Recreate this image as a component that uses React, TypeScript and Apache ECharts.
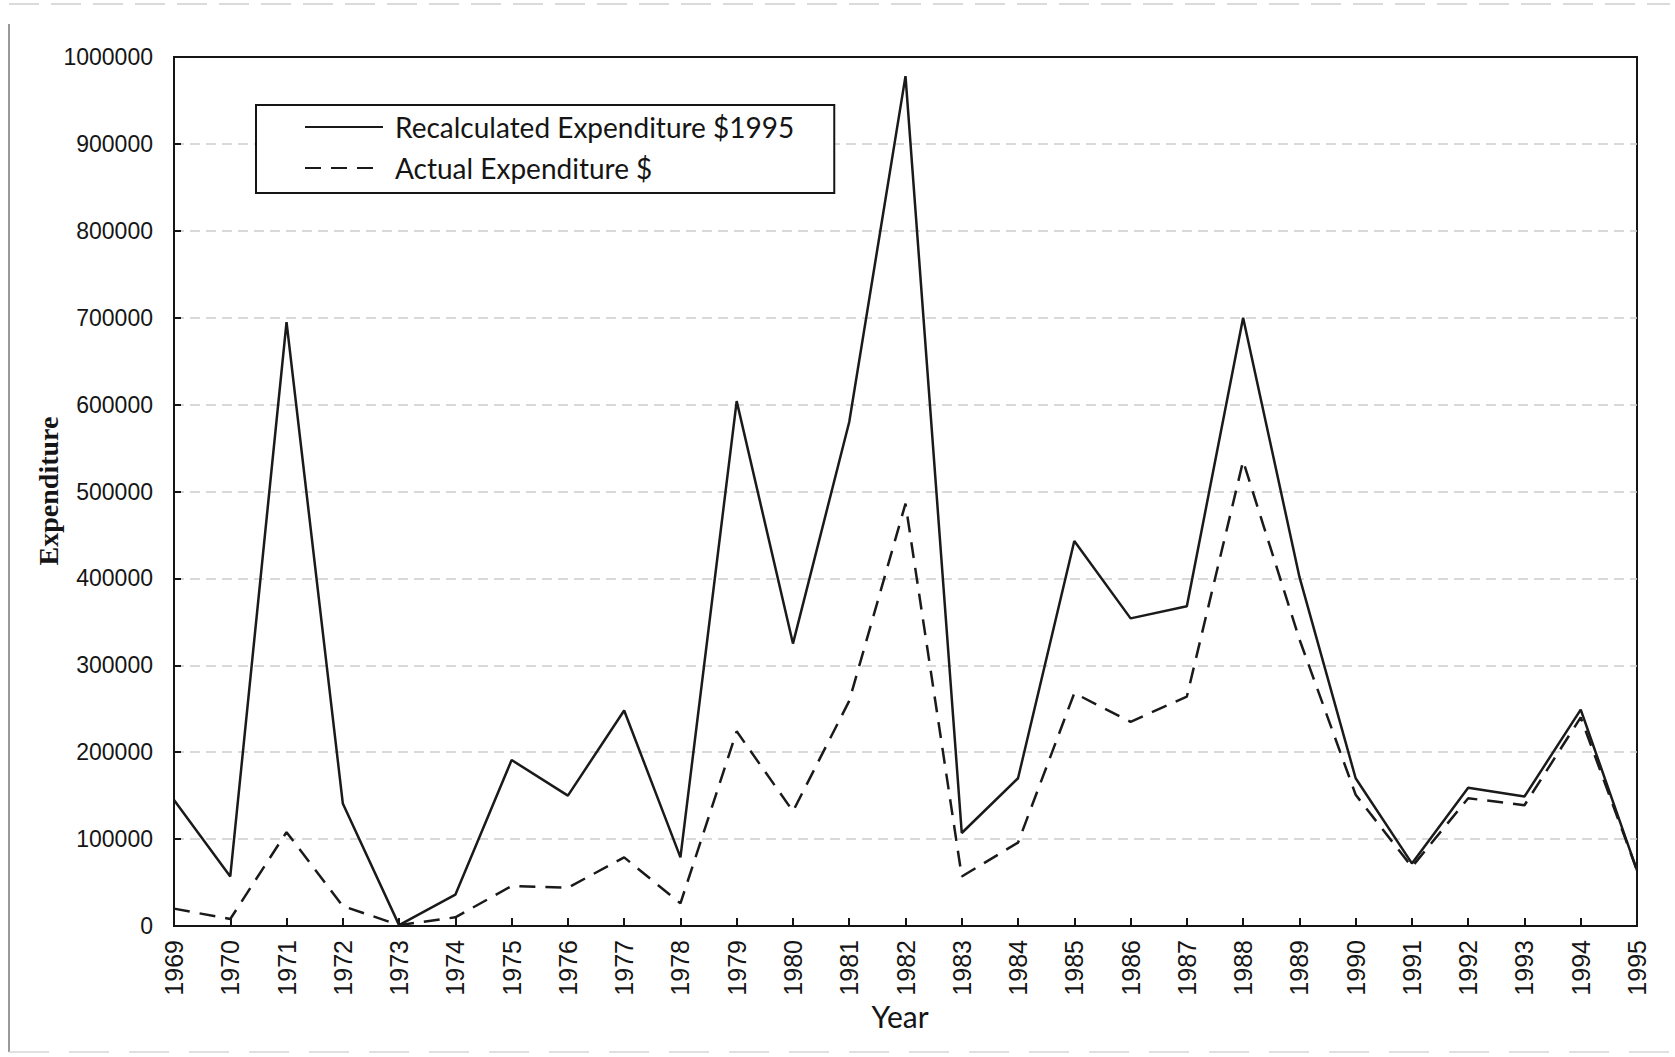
import React, { useEffect, useRef } from "react";
import * as echarts from "echarts";

const years = [
  "1969", "1970", "1971", "1972", "1973", "1974", "1975", "1976", "1977",
  "1978", "1979", "1980", "1981", "1982", "1983", "1984", "1985", "1986",
  "1987", "1988", "1989", "1990", "1991", "1992", "1993", "1994", "1995",
];

const recalculated = [
  145000, 57000, 695000, 141000, 1000, 36000, 191000, 150000, 248000,
  79000, 604000, 325000, 580000, 978000, 107000, 170000, 443000, 354000,
  368000, 700000, 402000, 170000, 72000, 159000, 149000, 249000, 64000,
];

const actual = [
  20000, 8000, 108000, 23000, 1000, 10000, 46000, 44000, 79000,
  26000, 224000, 132000, 259000, 486000, 57000, 96000, 268000, 235000,
  264000, 535000, 330000, 151000, 68000, 147000, 139000, 240000, 64000,
];

const seriesNames = ["Recalculated Expenditure $1995", "Actual Expenditure $"];
const xTitle = "Year";
const yTitle = "Expenditure";

export default function App() {
  const ref = useRef<HTMLDivElement>(null);
  useEffect(() => {
    if (!ref.current) return;
    const chart = echarts.init(ref.current, null, { renderer: "svg" });
    chart.setOption({
      animation: false,
      backgroundColor: "#ffffff",
      grid: {
        left: 174,
        right: 38,
        top: 57,
        bottom: 131,
        show: true,
        borderColor: "#151515",
        borderWidth: 2,
        containLabel: false,
      },
      legend: {
        orient: "vertical",
        left: 256,
        top: 105,
        data: seriesNames,
        backgroundColor: "#ffffff",
        borderColor: "#151515",
        borderWidth: 2,
        borderRadius: 0,
        padding: [7, 40, 10, 48],
        itemWidth: 78,
        itemHeight: 14,
        itemGap: 11,
        itemStyle: { opacity: 0, borderWidth: 0 },
        textStyle: {
          fontFamily: "Lato",
          fontSize: 28,
          color: "#151515",
          lineHeight: 30,
          padding: [0, 0, 0, 7],
        },
      },
      xAxis: {
        type: "category",
        data: years,
        boundaryGap: false,
        axisLine: { show: true, lineStyle: { color: "#151515", width: 2 } },
        axisTick: {
          show: true,
          inside: true,
          length: 8,
          alignWithLabel: true,
          lineStyle: { color: "#151515", width: 2 },
        },
        axisLabel: {
          interval: 0,
          rotate: 90,
          margin: 14,
          fontFamily: "Liberation Sans",
          fontSize: 25,
          color: "#151515",
        },
        splitLine: { show: false },
      },
      yAxis: {
        type: "value",
        min: 0,
        max: 1000000,
        interval: 100000,
        axisLine: { show: true, lineStyle: { color: "#151515", width: 2 } },
        axisTick: {
          show: true,
          inside: true,
          length: 7,
          lineStyle: { color: "#151515", width: 2 },
        },
        axisLabel: {
          margin: 21,
          fontFamily: "Liberation Sans",
          fontSize: 23,
          color: "#151515",
          formatter: (v: number) => String(v),
        },
        splitLine: {
          show: true,
          showMinLine: false,
          showMaxLine: false,
          lineStyle: { color: "#cdcdcd", width: 1.5, type: [10, 6] },
        },
      },
      series: [
        {
          name: seriesNames[0],
          type: "line",
          data: recalculated,
          symbol: "none",
          lineStyle: { color: "#1a1a1a", width: 2.5, type: "solid" },
          itemStyle: { color: "#1a1a1a" },
          z: 3,
        },
        {
          name: seriesNames[1],
          type: "line",
          data: actual,
          symbol: "none",
          lineStyle: { color: "#1a1a1a", width: 2.5, type: [16, 10] },
          itemStyle: { color: "#1a1a1a" },
          z: 2,
        },
      ],
      graphic: [
        {
          type: "line",
          shape: { x1: 9, y1: 24, x2: 9, y2: 1052 },
          style: { stroke: "#777777", lineWidth: 1.5 },
          silent: true,
        },
        {
          type: "line",
          shape: { x1: 9, y1: 4, x2: 1670, y2: 4 },
          style: { stroke: "#d0d0d0", lineWidth: 1.5, lineDash: [30, 12] },
          silent: true,
        },
        {
          type: "line",
          shape: { x1: 9, y1: 1052, x2: 1670, y2: 1052 },
          style: { stroke: "#d6d6d6", lineWidth: 1.5, lineDash: [40, 20] },
          silent: true,
        },
        {
          type: "text",
          x: 900,
          y: 1016,
          style: {
            text: xTitle,
            fontFamily: "Lato",
            fontSize: 30,
            fill: "#151515",
            textAlign: "center",
            textVerticalAlign: "middle",
          },
          silent: true,
        },
        {
          type: "text",
          x: 48,
          y: 491,
          rotation: Math.PI / 2,
          style: {
            text: yTitle,
            fontFamily: "Liberation Serif",
            fontWeight: "bold",
            fontSize: 28,
            fill: "#151515",
            textAlign: "center",
            textVerticalAlign: "middle",
          },
          silent: true,
        },
      ],
    });
    return () => chart.dispose();
  }, []);
  return (
    <div
      ref={ref}
      style={{ position: "fixed", left: 0, top: 0, width: 1675, height: 1057 }}
    />
  );
}
